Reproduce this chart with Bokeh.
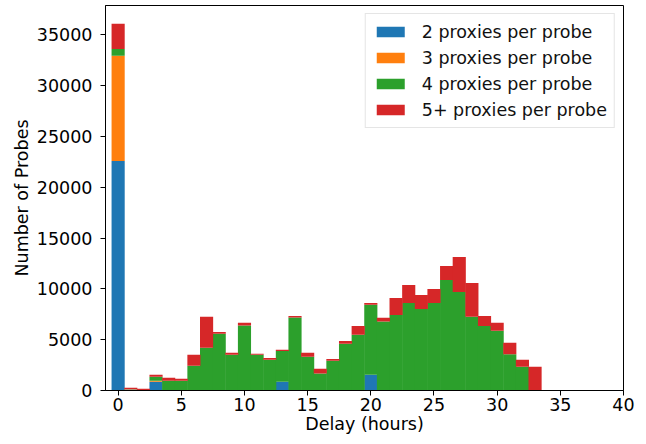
from bokeh.plotting import figure
from bokeh.models import ColumnDataSource, Range1d, FixedTicker
from bokeh.embed import file_html
from bokeh.resources import INLINE

# Bin centers (hours), width 1
delay = list(range(40))

two_proxies = [22600, 80, 40, 860, 0, 0, 0, 0, 0, 0,
               0, 0, 0, 860, 0, 50, 0, 0, 0, 0,
               1540, 0, 0, 0, 0, 0, 0, 0, 0, 0,
               0, 0, 0, 0, 0, 0, 0, 0, 0, 0]
three_proxies = [10350, 20, 0, 90, 40, 20, 0, 0, 0, 0,
                 0, 0, 0, 0, 0, 0, 0, 0, 0, 0,
                 0, 0, 0, 0, 0, 0, 0, 0, 0, 0,
                 0, 0, 0, 0, 0, 0, 0, 0, 0, 0]
four_proxies = [660, 30, 0, 400, 910, 930, 2430, 4200, 5580, 3510,
                6390, 3510, 3020, 3040, 7180, 3260, 1670, 2920, 4600, 5480,
                6890, 6790, 7440, 8620, 8030, 8620, 10880, 9700, 7250, 6360,
                5870, 3580, 2330, 0, 0, 0, 0, 0, 0, 0]
five_plus_proxies = [2480, 150, 120, 190, 300, 200, 1080, 3050, 190, 200,
                     270, 100, 190, 100, 160, 400, 460, 190, 280, 880,
                     190, 360, 1670, 1770, 1380, 1380, 1370, 3430, 3320, 980,
                     790, 1110, 690, 2330, 30, 30, 30, 30, 30, 30]

labels = ["2 proxies per probe", "3 proxies per probe",
          "4 proxies per probe", "5+ proxies per probe"]
colors = ["#1f77b4", "#ff7f0e", "#2ca02c", "#d62728"]
x_ticks = [0, 5, 10, 15, 20, 25, 30, 35, 40]
y_ticks = [0, 5000, 10000, 15000, 20000, 25000, 30000, 35000]

source = ColumnDataSource(dict(x=delay, b=two_proxies, o=three_proxies,
                               g=four_proxies, r=five_plus_proxies))

totals = [a + b + c + d for a, b, c, d in zip(two_proxies, three_proxies,
                                               four_proxies, five_plus_proxies)]

FONT = "DejaVu Sans"
FS = "17.5px"

p = figure(width=638, height=436, output_backend="svg", toolbar_location=None,
           x_range=Range1d(-1, 40), y_range=Range1d(0, max(totals) * 1.05),
           min_border_left=105, min_border_right=15, min_border_top=5,
           min_border_bottom=10)

p.vbar_stack(["b", "o", "g", "r"], x="x", width=1.04, source=source,
             fill_color=colors, line_color=None, legend_label=labels)

p.xgrid.visible = False
p.ygrid.visible = False
p.outline_line_color = "black"
p.outline_line_width = 1
p.background_fill_color = "white"

for ax in (p.xaxis[0], p.yaxis[0]):
    ax.axis_line_color = "black"
    ax.major_tick_line_color = "black"
    ax.minor_tick_line_color = None
    ax.major_tick_in = 0
    ax.major_tick_out = 5
    ax.major_label_text_font = FONT
    ax.major_label_text_font_size = FS
    ax.major_label_text_color = "black"
    ax.axis_label_text_font = FONT
    ax.axis_label_text_font_size = FS
    ax.axis_label_text_font_style = "normal"
    ax.axis_label_text_color = "black"

p.xaxis.ticker = FixedTicker(ticks=x_ticks)
p.yaxis.ticker = FixedTicker(ticks=y_ticks)
p.xaxis.axis_label = "Delay (hours)"
p.yaxis.axis_label = "Number of Probes"
p.xaxis.major_label_standoff = 2
p.xaxis.axis_label_standoff = 0
p.yaxis.major_label_standoff = 8
p.yaxis.axis_label_standoff = 2

lg = p.legend[0]
lg.location = "top_right"
lg.margin = 8
lg.padding = 7
lg.spacing = 5
lg.glyph_width = 35
lg.glyph_height = 13
lg.label_height = 21
lg.label_standoff = 14
lg.label_text_font = FONT
lg.label_text_font_size = FS
lg.label_text_color = "#111111"
lg.border_line_color = "#cccccc"
lg.border_line_width = 1
lg.background_fill_alpha = 0.8

open("out.html", "w").write(file_html(p, INLINE))
